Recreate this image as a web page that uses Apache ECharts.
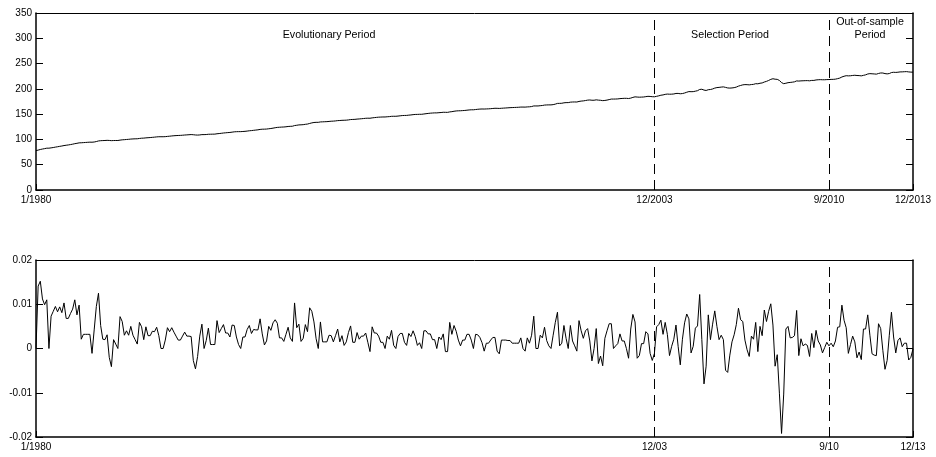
<!DOCTYPE html>
<html lang="en">
<head>
    <meta charset="UTF-8">
    <title>CPI level and monthly change</title>
    <script src="https://cdn.jsdelivr.net/npm/echarts@6/dist/echarts.min.js"></script>
    <style>
        html, body { margin: 0; padding: 0; background: #fff; }
        #chart { width: 936px; height: 457px; }
    </style>
</head>
<body>
<div id="chart"></div>
<script type="text/javascript">
    // monthly categories 1/1980 .. 12/2013
    var months = [];
    for (var y = 1980; y <= 2013; y++) {
        for (var m = 1; m <= 12; m++) months.push(m + '/' + y);
    }

    // period boundaries (category index) and their labels
    var tickIdx = [0, 287, 368, 407];
    var topTickLabels = ['1/1980', '12/2003', '9/2010', '12/2013'];
    var bottomTickLabels = ['1/1980', '12/03', '9/10', '12/13'];
    var periodLines = [287, 368];

    // price level, one row per year
    var level = [
        77.8, 78.9, 80.1, 81.0, 81.8, 82.7, 82.7, 83.3, 84.0, 84.8, 85.5, 86.3,
        87.0, 87.9, 88.5, 89.1, 89.8, 90.6, 91.6, 92.3, 93.2, 93.4, 93.7, 94.0,
        94.3, 94.6, 94.5, 94.9, 95.8, 97.0, 97.5, 97.7, 97.9, 98.2, 98.0, 97.6,
        97.8, 97.9, 97.9, 98.6, 99.2, 99.5, 99.9, 100.2, 100.7, 101.0, 101.2, 101.3,
        101.9, 102.4, 102.6, 103.1, 103.4, 103.7, 104.1, 104.5, 105.0, 105.3, 105.3, 105.3,
        105.5, 106.0, 106.4, 106.9, 107.3, 107.6, 107.8, 108.0, 108.3, 108.7, 109.0, 109.3,
        109.6, 109.3, 108.8, 108.6, 108.9, 109.5, 109.5, 109.7, 110.2, 110.3, 110.4, 110.5,
        111.2, 111.6, 112.1, 112.7, 113.1, 113.5, 113.8, 114.4, 115.0, 115.3, 115.4, 115.4,
        115.7, 116.0, 116.5, 117.1, 117.5, 118.0, 118.5, 119.0, 119.8, 120.2, 120.3, 120.5,
        121.1, 121.6, 122.3, 123.1, 123.8, 124.1, 124.4, 124.6, 125.0, 125.6, 125.9, 126.1,
        127.4, 128.0, 128.7, 128.9, 129.2, 129.9, 130.4, 131.6, 132.7, 133.5, 133.8, 133.8,
        134.6, 134.8, 135.0, 135.2, 135.6, 136.0, 136.2, 136.6, 137.2, 137.4, 137.8, 137.9,
        138.1, 138.6, 139.3, 139.5, 139.7, 140.2, 140.5, 140.9, 141.3, 141.8, 142.0, 141.9,
        142.6, 143.1, 143.6, 144.0, 144.2, 144.4, 144.4, 144.8, 145.1, 145.7, 145.8, 145.8,
        146.2, 146.7, 147.2, 147.4, 147.5, 148.0, 148.4, 149.0, 149.4, 149.5, 149.7, 149.7,
        150.3, 150.9, 151.4, 151.9, 152.2, 152.5, 152.5, 152.9, 153.2, 153.7, 153.6, 153.5,
        154.4, 154.9, 155.7, 156.3, 156.6, 156.7, 157.0, 157.3, 157.8, 158.3, 158.6, 158.6,
        159.1, 159.6, 160.0, 160.2, 160.1, 160.3, 160.5, 160.8, 161.2, 161.6, 161.5, 161.3,
        161.6, 161.9, 162.2, 162.5, 162.8, 163.0, 163.2, 163.4, 163.6, 164.0, 164.0, 163.9,
        164.3, 164.5, 165.0, 166.2, 166.2, 166.2, 166.7, 167.1, 167.9, 168.2, 168.3, 168.3,
        168.8, 169.8, 171.2, 171.3, 171.5, 172.4, 172.8, 172.8, 173.7, 174.0, 174.1, 174.0,
        175.1, 175.8, 176.2, 176.9, 177.7, 178.0, 177.5, 177.5, 178.3, 177.7, 177.4, 176.7,
        177.1, 177.8, 178.8, 179.8, 179.8, 179.9, 180.1, 180.7, 181.0, 181.3, 181.3, 180.9,
        181.7, 183.1, 184.2, 183.8, 183.5, 183.7, 183.9, 184.6, 185.2, 185.0, 184.5, 184.3,
        185.2, 186.2, 187.4, 188.0, 189.1, 189.7, 189.4, 189.5, 189.9, 190.9, 191.0, 190.3,
        190.7, 191.8, 193.3, 194.6, 194.4, 194.5, 195.4, 196.4, 198.8, 199.2, 197.6, 196.8,
        198.3, 198.7, 199.8, 201.5, 202.5, 202.9, 203.5, 203.9, 202.9, 201.8, 201.5, 201.8,
        202.4, 203.5, 205.4, 206.7, 207.9, 208.4, 208.3, 207.9, 208.5, 208.9, 210.2, 210.0,
        211.1, 211.7, 213.5, 214.8, 216.6, 218.8, 220.0, 219.1, 218.8, 216.6, 212.4, 210.2,
        211.1, 212.2, 212.7, 213.2, 213.9, 215.7, 215.4, 215.8, 216.0, 216.2, 216.3, 215.9,
        216.7, 216.7, 217.6, 218.0, 218.2, 218.0, 218.0, 218.3, 218.4, 218.7, 218.8, 219.2,
        220.2, 221.3, 223.5, 224.9, 226.0, 225.7, 225.9, 226.5, 226.9, 226.4, 226.2, 225.7,
        226.7, 227.7, 229.4, 230.1, 229.8, 229.5, 229.1, 230.4, 231.4, 231.3, 230.2, 229.6,
        230.3, 232.2, 232.8, 232.5, 232.9, 233.5, 233.6, 233.9, 234.1, 233.5, 233.1, 233.0
    ];

    // monthly change, one row per year
    var change = [
        0, 0.0141, 0.0152, 0.0112, 0.0099, 0.0110, 0, 0.0073, 0.0084, 0.0095, 0.0083, 0.0094,
        0.0081, 0.0103, 0.0068, 0.0068, 0.0079, 0.0089, 0.0110, 0.0076, 0.0098, 0.0021, 0.0032, 0.0032,
        0.0032, 0.0032, -0.0011, 0.0042, 0.0095, 0.0125, 0.0052, 0.0021, 0.0020, 0.0031, -0.0020, -0.0041,
        0.0020, 0.0010, 0, 0.0072, 0.0061, 0.0030, 0.0040, 0.0030, 0.0050, 0.0030, 0.0020, 0.0010,
        0.0059, 0.0049, 0.0020, 0.0049, 0.0029, 0.0029, 0.0039, 0.0038, 0.0048, 0.0029, 0, 0,
        0.0019, 0.0047, 0.0038, 0.0047, 0.0037, 0.0028, 0.0019, 0.0019, 0.0028, 0.0037, 0.0028, 0.0028,
        0.0027, -0.0027, -0.0046, -0.0018, 0.0028, 0.0055, 0, 0.0018, 0.0046, 0.0009, 0.0009, 0.0009,
        0.0063, 0.0036, 0.0045, 0.0054, 0.0035, 0.0035, 0.0026, 0.0053, 0.0052, 0.0026, 0.0009, 0,
        0.0026, 0.0026, 0.0043, 0.0052, 0.0034, 0.0043, 0.0042, 0.0042, 0.0067, 0.0033, 0.0008, 0.0017,
        0.0050, 0.0041, 0.0058, 0.0065, 0.0057, 0.0024, 0.0024, 0.0016, 0.0032, 0.0048, 0.0024, 0.0016,
        0.0103, 0.0047, 0.0055, 0.0016, 0.0023, 0.0054, 0.0038, 0.0092, 0.0084, 0.0060, 0.0022, 0,
        0.0060, 0.0015, 0.0015, 0.0015, 0.0030, 0.0029, 0.0015, 0.0029, 0.0044, 0.0015, 0.0029, 0.0007,
        0.0015, 0.0036, 0.0051, 0.0014, 0.0014, 0.0036, 0.0021, 0.0028, 0.0028, 0.0035, 0.0014, -0.0007,
        0.0049, 0.0035, 0.0035, 0.0028, 0.0014, 0.0014, 0, 0.0028, 0.0021, 0.0041, 0.0007, 0,
        0.0027, 0.0034, 0.0034, 0.0014, 0.0007, 0.0034, 0.0027, 0.0040, 0.0027, 0.0007, 0.0013, 0,
        0.0040, 0.0040, 0.0033, 0.0033, 0.0020, 0.0020, 0, 0.0026, 0.0020, 0.0033, -0.0007, -0.0007,
        0.0059, 0.0032, 0.0052, 0.0039, 0.0019, 0.0006, 0.0019, 0.0019, 0.0032, 0.0032, 0.0019, 0,
        0.0032, 0.0031, 0.0025, 0.0013, -0.0006, 0.0012, 0.0012, 0.0019, 0.0025, 0.0025, -0.0006, -0.0012,
        0.0019, 0.0019, 0.0019, 0.0018, 0.0018, 0.0012, 0.0012, 0.0012, 0.0012, 0.0024, 0, -0.0006,
        0.0024, 0.0012, 0.0030, 0.0073, 0, 0, 0.0030, 0.0024, 0.0048, 0.0018, 0.0006, 0,
        0.0030, 0.0059, 0.0082, 0.0006, 0.0012, 0.0052, 0.0023, 0, 0.0052, 0.0017, 0.0006, -0.0006,
        0.0063, 0.0040, 0.0023, 0.0040, 0.0045, 0.0017, -0.0028, 0, 0.0045, -0.0034, -0.0017, -0.0039,
        0.0023, 0.0040, 0.0056, 0.0056, 0, 0.0006, 0.0011, 0.0033, 0.0017, 0.0017, 0, -0.0022,
        0.0044, 0.0077, 0.0060, -0.0022, -0.0016, 0.0011, 0.0011, 0.0038, 0.0033, -0.0011, -0.0027, -0.0011,
        0.0049, 0.0054, 0.0064, 0.0032, 0.0059, 0.0032, -0.0016, 0.0005, 0.0021, 0.0053, 0.0005, -0.0037,
        0.0021, 0.0058, 0.0078, 0.0067, -0.0010, 0.0005, 0.0046, 0.0051, 0.0122, 0.0020, -0.0080, -0.0040,
        0.0076, 0.0020, 0.0055, 0.0085, 0.0050, 0.0020, 0.0030, 0.0020, -0.0049, -0.0054, -0.0015, 0.0015,
        0.0031, 0.0054, 0.0091, 0.0065, 0.0061, 0.0019, -0.0003, -0.0018, 0.0028, 0.0021, 0.0059, -0.0007,
        0.0050, 0.0029, 0.0087, 0.0061, 0.0084, 0.0101, 0.0053, -0.0040, -0.0014, -0.0101, -0.0192, -0.0103,
        0.0044, 0.0050, 0.0024, 0.0025, 0.0029, 0.0086, -0.0016, 0.0022, 0.0006, 0.0010, 0.0007, -0.0018,
        0.0034, 0.0002, 0.0041, 0.0017, 0.0008, -0.0010, 0.0002, 0.0014, 0.0006, 0.0012, 0.0004, 0.0017,
        0.0048, 0.0049, 0.0098, 0.0064, 0.0047, -0.0011, 0.0009, 0.0028, 0.0015, -0.0021, -0.0008, -0.0025,
        0.0044, 0.0044, 0.0076, 0.0030, -0.0012, -0.0015, -0.0016, 0.0056, 0.0045, -0.0004, -0.0047, -0.0027,
        0.0030, 0.0082, 0.0026, -0.0010, 0.0018, 0.0024, 0.0004, 0.0012, 0.0012, -0.0026, -0.0020, -0.0001
    ];

    var FONT = 'Liberation Sans';
    var NOTE_FONT = '10.7px "Liberation Sans"';
    var isTick = function (index) { return tickIdx.indexOf(index) >= 0; };

    function bottomAxis(gridIndex, labels) {
        return {
            type: 'category', gridIndex: gridIndex, position: 'bottom',
            data: months, boundaryGap: false,
            axisLine: { onZero: false, lineStyle: { color: '#000', width: 1.5 } },
            axisTick: { inside: true, length: 6, interval: isTick, lineStyle: { color: '#000' } },
            axisLabel: {
                interval: isTick, margin: 5, color: '#000', fontFamily: FONT, fontSize: 10,
                formatter: function (val, idx) { return labels[tickIdx.indexOf(idx)]; }
            },
            splitLine: { show: false }
        };
    }
    function topAxis(gridIndex) {
        return {
            type: 'category', gridIndex: gridIndex, position: 'top',
            data: months, boundaryGap: false,
            axisLine: { onZero: false, lineStyle: { color: '#000', width: 1 } },
            axisTick: { show: false }, axisLabel: { show: false }, splitLine: { show: false }
        };
    }
    function sideAxis(gridIndex, pos, min, max, step, showLabel) {
        return {
            type: 'value', gridIndex: gridIndex, position: pos,
            min: min, max: max, interval: step,
            axisLine: { show: true, onZero: false, lineStyle: { color: '#000', width: 1.5 } },
            axisTick: { show: true, inside: true, length: 7, lineStyle: { color: '#000' } },
            axisLabel: { show: showLabel, margin: 4, color: '#000', fontFamily: FONT, fontSize: 10 },
            splitLine: { show: false }
        };
    }
    function periodMarks() {
        return {
            silent: true, symbol: ['none', 'none'], animation: false,
            label: { show: false },
            lineStyle: { type: [10, 6], color: '#000', width: 1 },
            data: periodLines.map(function (i) { return { xAxis: months[i] }; })
        };
    }

    var myEchart = echarts.init(document.getElementById('chart'));
    var option = {
        animation: false,
        backgroundColor: '#fff',
        grid: [
            { left: 36, right: 23, top: 13, height: 177 },
            { left: 36, right: 23, top: 260, height: 177 }
        ],
        xAxis: [
            bottomAxis(0, topTickLabels), topAxis(0),
            bottomAxis(1, bottomTickLabels), topAxis(1)
        ],
        yAxis: [
            sideAxis(0, 'left', 0, 350, 50, true), sideAxis(0, 'right', 0, 350, 50, false),
            sideAxis(1, 'left', -0.02, 0.02, 0.01, true), sideAxis(1, 'right', -0.02, 0.02, 0.01, false)
        ],
        series: [
            {
                type: 'line', xAxisIndex: 0, yAxisIndex: 0, data: level,
                showSymbol: false, lineStyle: { color: '#000', width: 1 },
                markLine: periodMarks()
            },
            {
                type: 'line', xAxisIndex: 2, yAxisIndex: 2, data: change,
                showSymbol: false, lineStyle: { color: '#000', width: 1 },
                markLine: periodMarks()
            }
        ],
        graphic: [
            { type: 'text', x: 329, y: 35, style: { text: 'Evolutionary Period', font: NOTE_FONT, fill: '#000', align: 'center', verticalAlign: 'middle' } },
            { type: 'text', x: 730, y: 35, style: { text: 'Selection Period', font: NOTE_FONT, fill: '#000', align: 'center', verticalAlign: 'middle' } },
            { type: 'text', x: 870, y: 29, style: { text: 'Out-of-sample\nPeriod', font: NOTE_FONT, fill: '#000', align: 'center', verticalAlign: 'middle', lineHeight: 13 } }
        ]
    };
    myEchart.setOption(option);
</script>
</body>
</html>
